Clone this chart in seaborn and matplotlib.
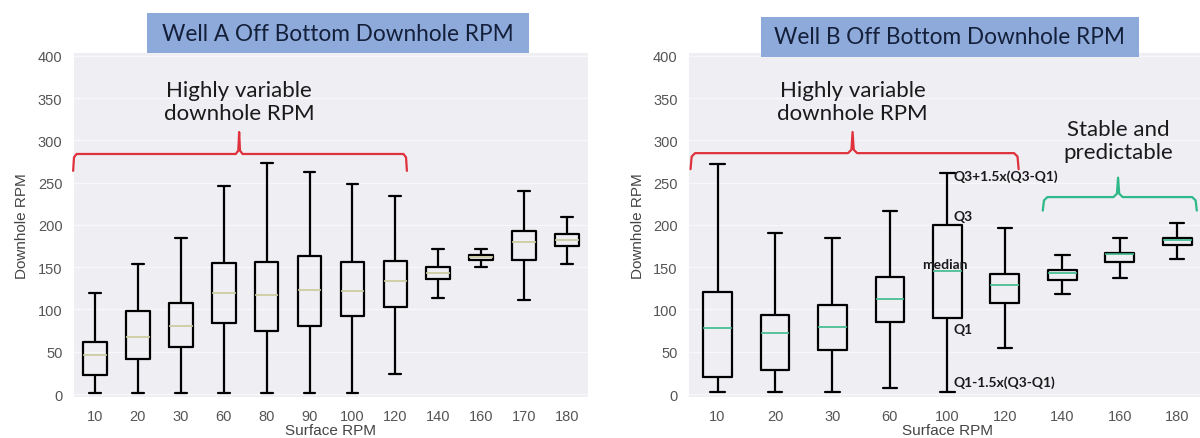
import numpy as np
import pandas as pd
import matplotlib
matplotlib.use("Agg")
import matplotlib.pyplot as plt
import seaborn as sns
from matplotlib.patches import Rectangle

# ---------------- data (five-number summaries) ----------------
cats_a = ["10", "20", "30", "60", "80", "90", "100", "120", "140", "160", "170", "180"]
lo_a   = [1, 1, 1, 1, 1, 1, 1, 24, 114, 150, 111, 154]
q1_a   = [22, 41, 56, 84, 75, 80, 92, 103, 136, 158, 159, 175]
med_a  = [46, 68, 81, 119, 117, 123, 122, 134, 143, 162, 180, 182]
q3_a   = [61, 98, 108, 155, 156, 163, 156, 157, 150, 165, 193, 189]
hi_a   = [119, 154, 185, 246, 273, 263, 248, 234, 172, 172, 240, 209]

cats_b = ["10", "20", "30", "60", "100", "120", "140", "160", "180"]
lo_b   = [2, 2, 2, 7, 2, 54, 118, 137, 160]
q1_b   = [20, 29, 52, 85, 90, 108, 135, 156, 176]
med_b  = [78, 72, 79, 112, 145, 129, 143, 166, 182]
q3_b   = [121, 94, 105, 138, 200, 142, 147, 167, 185]
hi_b   = [272, 191, 185, 217, 262, 196, 164, 185, 202]

title_a = "Well A Off Bottom Downhole RPM"
title_b = "Well B Off Bottom Downhole RPM"
note_var = "Highly variable\ndownhole RPM"
note_stable = "Stable and\npredictable"


def frame(cats, lo, q1, med, q3, hi):
    rows = []
    for c, *vals in zip(cats, lo, q1, med, q3, hi):
        for v in vals:
            rows.append((c, v))
    return pd.DataFrame(rows, columns=["Surface RPM", "Downhole RPM"])


df_a = frame(cats_a, lo_a, q1_a, med_a, q3_a, hi_a)
df_b = frame(cats_b, lo_b, q1_b, med_b, q3_b, hi_b)

# ---------------- style ----------------
sns.set_theme(style="darkgrid", rc={
    "axes.facecolor": "#eeeef3",
    "grid.color": "#f8f8fb",
    "grid.linewidth": 1.0,
    "figure.facecolor": "white",
})
plt.rcParams["font.family"] = ["Liberation Sans", "DejaVu Sans"]
ANN = ["Lato", "DejaVu Sans"]

fig = plt.figure(figsize=(12, 4.39), dpi=100)
ax_a = fig.add_axes([0.0613, 0.0925, 0.429, 0.7855])
ax_b = fig.add_axes([0.574, 0.0925, 0.431, 0.7855])


def draw(ax, df, order, median_color, width):
    sns.boxplot(data=df, x="Surface RPM", y="Downhole RPM", order=order, ax=ax,
                whis=(0, 100), width=width, fill=False, color="black",
                linewidth=1.6, showfliers=False,
                medianprops={"color": median_color, "linewidth": 1.2})
    ax.set_yticks(range(0, 401, 50))
    ax.tick_params(axis="both", labelsize=10.5, colors="#555555", pad=2)
    ax.set_xlabel("Surface RPM", fontsize=11, color="#444444", labelpad=0)
    ax.set_ylabel("Downhole RPM", fontsize=11, color="#444444", labelpad=6)
    for s in ax.spines.values():
        s.set_visible(False)


draw(ax_a, df_a, cats_a, "#c9c99c", 0.55)
draw(ax_b, df_b, cats_b, "#3dbb8e", 0.5)


def brace(ax, x0, x1, xc, y_end, y_h, y_peak, color):
    xs = [x0, x0 + 0.02, x0 + 0.08, xc - 0.08, xc - 0.02, xc, xc + 0.02, xc + 0.08,
          x1 - 0.08, x1 - 0.02, x1]
    ys = [y_end, y_h - 4, y_h, y_h, y_h + 4, y_peak, y_h + 4, y_h, y_h, y_h - 4, y_end]
    ax.plot(xs, ys, color=color, lw=1.6, clip_on=False, solid_capstyle="round",
            solid_joinstyle="round", scalex=False, scaley=False)


RED = "#e0323c"
GREEN = "#2fb888"

brace(ax_a, -0.51, 7.27, 3.36, 264, 284, 310, RED)
ax_a.text(3.36, 346, note_var, ha="center", va="center", fontsize=16,
          family=ANN, color="#1a1a1a", linespacing=1.2)

brace(ax_b, -0.47, 5.24, 2.35, 266, 285, 310, RED)
ax_b.text(2.35, 346, note_var, ha="center", va="center", fontsize=16,
          family=ANN, color="#1a1a1a", linespacing=1.2)

brace(ax_b, 5.66, 8.34, 6.97, 217, 233, 256, GREEN)
ax_b.text(6.97, 300, note_stable, ha="center", va="center", fontsize=16,
          family=ANN, color="#1a1a1a", linespacing=1.2)

# box-part labels on Well B, 100 RPM
kw = dict(fontsize=10, fontweight="bold", family=ANN, color="#1a1a1a", va="center")
ax_b.text(4.11, 258, "Q3+1.5x(Q3-Q1)", ha="left", **kw)
ax_b.text(4.11, 211, "Q3", ha="left", **kw)
ax_b.text(3.95, 154, "median", ha="center", **kw)
ax_b.text(4.11, 77, "Q1", ha="left", **kw)
ax_b.text(4.11, 15, "Q1-1.5x(Q3-Q1)", ha="left", **kw)

for ax, cats in [(ax_a, cats_a), (ax_b, cats_b)]:
    ax.set_xlim(-0.5, len(cats) - 0.5)
    ax.set_ylim(-4, 404)

# title boxes
for (x, y, w, h, t) in [(0.1225, 0.877, 0.318, 0.091, title_a),
                        (0.634, 0.868, 0.315, 0.091, title_b)]:
    fig.patches.append(Rectangle((x, y), w, h, transform=fig.transFigure,
                                 facecolor="#8eaadb", edgecolor="none", zorder=5))
    fig.text(x + w / 2, y + h / 2, t, ha="center", va="center", fontsize=16.3,
             family=ANN, color="#14203a", zorder=6)

fig.savefig("out.png", dpi=100)
